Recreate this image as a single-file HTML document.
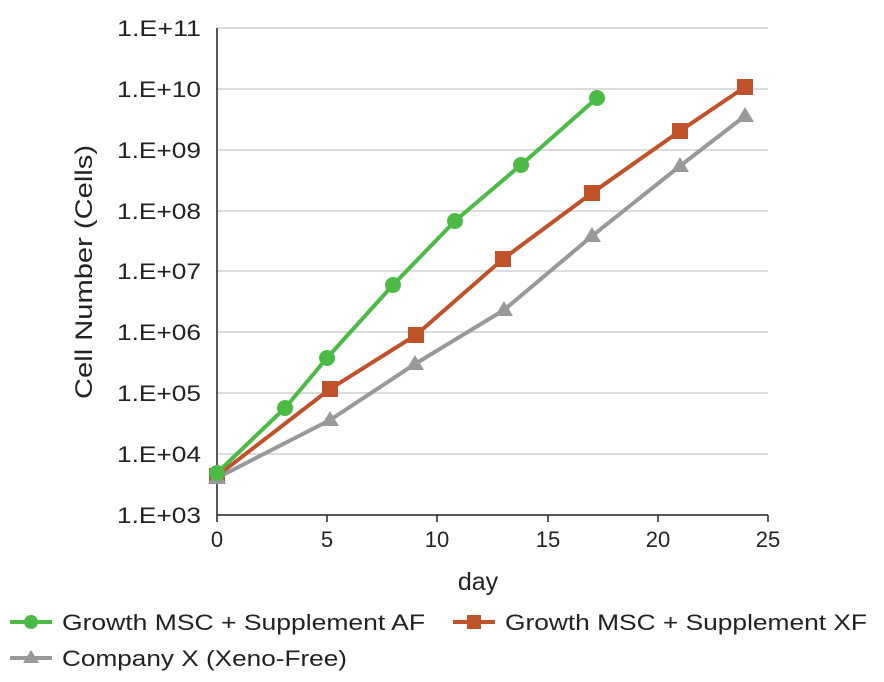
<!DOCTYPE html>
<html><head><meta charset="utf-8"><style>body{margin:0;background:#fff}</style></head><body>
<svg width="884" height="677" xmlns="http://www.w3.org/2000/svg" font-family="Liberation Sans, sans-serif" fill="#222">
<g stroke="#d0d0d0" stroke-width="1.5">
<line x1="217" y1="28" x2="768" y2="28"/><line x1="217" y1="89" x2="768" y2="89"/><line x1="217" y1="150" x2="768" y2="150"/><line x1="217" y1="211" x2="768" y2="211"/><line x1="217" y1="271" x2="768" y2="271"/><line x1="217" y1="332" x2="768" y2="332"/><line x1="217" y1="393" x2="768" y2="393"/><line x1="217" y1="454" x2="768" y2="454"/>
</g>
<g stroke="#222" stroke-width="1.5">
<line x1="217" y1="28" x2="217" y2="515"/><line x1="217" y1="515" x2="768" y2="515"/>
<line x1="217" y1="515" x2="217" y2="522"/><line x1="327" y1="515" x2="327" y2="522"/><line x1="437" y1="515" x2="437" y2="522"/><line x1="548" y1="515" x2="548" y2="522"/><line x1="658" y1="515" x2="658" y2="522"/><line x1="768" y1="515" x2="768" y2="522"/>
</g>
<g font-size="22" text-anchor="end">
<text x="201" y="36" textLength="84" lengthAdjust="spacingAndGlyphs">1.E+11</text><text x="201" y="97" textLength="84" lengthAdjust="spacingAndGlyphs">1.E+10</text><text x="201" y="158" textLength="84" lengthAdjust="spacingAndGlyphs">1.E+09</text><text x="201" y="219" textLength="84" lengthAdjust="spacingAndGlyphs">1.E+08</text><text x="201" y="279" textLength="84" lengthAdjust="spacingAndGlyphs">1.E+07</text><text x="201" y="340" textLength="84" lengthAdjust="spacingAndGlyphs">1.E+06</text><text x="201" y="401" textLength="84" lengthAdjust="spacingAndGlyphs">1.E+05</text><text x="201" y="462" textLength="84" lengthAdjust="spacingAndGlyphs">1.E+04</text><text x="201" y="523" textLength="84" lengthAdjust="spacingAndGlyphs">1.E+03</text>
</g>
<g font-size="22" text-anchor="middle">
<text x="217" y="547">0</text><text x="327" y="547">5</text><text x="437" y="547">10</text><text x="548" y="547">15</text><text x="658" y="547">20</text><text x="768" y="547">25</text>
<text x="478" y="590" font-size="25">day</text>
<text transform="translate(92,272) rotate(-90)" font-size="24" textLength="254" lengthAdjust="spacingAndGlyphs">Cell Number (Cells)</text>
</g>
<polyline fill="none" stroke="#c0522a" stroke-width="4" points="217,476 330,389 416,335 503,259 592,193 680,131 745,87"/>
<g fill="#c0522a"><rect x="209" y="468" width="16" height="16"/><rect x="322" y="381" width="16" height="16"/><rect x="408" y="327" width="16" height="16"/><rect x="495" y="251" width="16" height="16"/><rect x="584" y="185" width="16" height="16"/><rect x="672" y="123" width="16" height="16"/><rect x="737" y="79" width="16" height="16"/></g>
<polyline fill="none" stroke="#999" stroke-width="4" points="217,478 330,420 415,364 504,310 592,236 680,166 745,116"/>
<g fill="#999"><path d="M217,469l9,15h-18z"/><path d="M330,411l9,15h-18z"/><path d="M415,355l9,15h-18z"/><path d="M504,301l9,15h-18z"/><path d="M592,227l9,15h-18z"/><path d="M680,157l9,15h-18z"/><path d="M745,107l9,15h-18z"/></g>
<polyline fill="none" stroke="#4cbb45" stroke-width="4" points="217,473 285,408 327,358 393,285 455,221 521,165 597,98"/>
<g fill="#4cbb45"><circle cx="217" cy="473" r="8"/><circle cx="285" cy="408" r="8"/><circle cx="327" cy="358" r="8"/><circle cx="393" cy="285" r="8"/><circle cx="455" cy="221" r="8"/><circle cx="521" cy="165" r="8"/><circle cx="597" cy="98" r="8"/></g>
<line x1="10" y1="622" x2="52" y2="622" stroke="#4cbb45" stroke-width="4"/><circle cx="31" cy="622" r="7" fill="#4cbb45"/>
<text x="62" y="630" font-size="22" textLength="363" lengthAdjust="spacingAndGlyphs">Growth MSC + Supplement AF</text>
<line x1="453" y1="622" x2="495" y2="622" stroke="#c0522a" stroke-width="4"/><rect x="467" y="615" width="14" height="14" fill="#c0522a"/>
<text x="505" y="630" font-size="22" textLength="362" lengthAdjust="spacingAndGlyphs">Growth MSC + Supplement XF</text>
<line x1="10" y1="658" x2="52" y2="658" stroke="#999" stroke-width="4"/><path d="M31,650l8,13h-16z" fill="#999"/>
<text x="62" y="666" font-size="22" textLength="285" lengthAdjust="spacingAndGlyphs">Company X (Xeno-Free)</text>
</svg>
</body></html>
